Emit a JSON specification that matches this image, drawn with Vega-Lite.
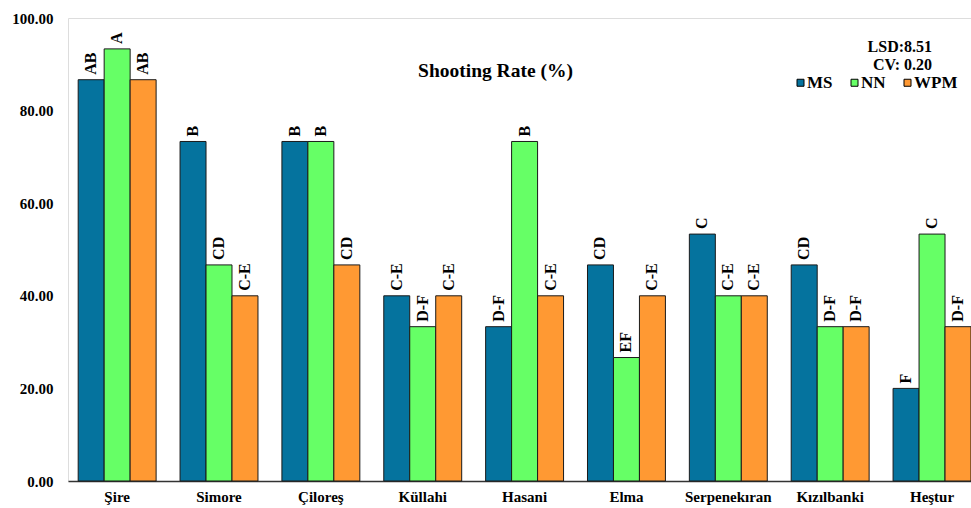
{
  "$schema": "https://vega.github.io/schema/vega-lite/v6.json",
  "width": 903,
  "height": 463,
  "autosize": {"type": "none"},
  "padding": {"left": 68, "top": 18, "right": 0, "bottom": 27},
  "background": "white",
  "title": {
    "text": "Shooting Rate (%)",
    "font": "Liberation Serif",
    "fontSize": 19.5,
    "fontWeight": "bold",
    "color": "black",
    "anchor": "middle",
    "dx": -24,
    "dy": 74
  },
  "data": {
    "values": [
      {"cultivar": "Şire", "treatment": "MS", "value": 86.67, "group": "AB"},
      {"cultivar": "Şire", "treatment": "NN", "value": 93.33, "group": "A"},
      {"cultivar": "Şire", "treatment": "WPM", "value": 86.67, "group": "AB"},
      {"cultivar": "Simore", "treatment": "MS", "value": 73.33, "group": "B"},
      {"cultivar": "Simore", "treatment": "NN", "value": 46.67, "group": "CD"},
      {"cultivar": "Simore", "treatment": "WPM", "value": 40.0, "group": "C-E"},
      {"cultivar": "Çiloreş", "treatment": "MS", "value": 73.33, "group": "B"},
      {"cultivar": "Çiloreş", "treatment": "NN", "value": 73.33, "group": "B"},
      {"cultivar": "Çiloreş", "treatment": "WPM", "value": 46.67, "group": "CD"},
      {"cultivar": "Küllahi", "treatment": "MS", "value": 40.0, "group": "C-E"},
      {"cultivar": "Küllahi", "treatment": "NN", "value": 33.33, "group": "D-F"},
      {"cultivar": "Küllahi", "treatment": "WPM", "value": 40.0, "group": "C-E"},
      {"cultivar": "Hasani", "treatment": "MS", "value": 33.33, "group": "D-F"},
      {"cultivar": "Hasani", "treatment": "NN", "value": 73.33, "group": "B"},
      {"cultivar": "Hasani", "treatment": "WPM", "value": 40.0, "group": "C-E"},
      {"cultivar": "Elma", "treatment": "MS", "value": 46.67, "group": "CD"},
      {"cultivar": "Elma", "treatment": "NN", "value": 26.67, "group": "EF"},
      {"cultivar": "Elma", "treatment": "WPM", "value": 40.0, "group": "C-E"},
      {"cultivar": "Serpenekıran", "treatment": "MS", "value": 53.33, "group": "C"},
      {"cultivar": "Serpenekıran", "treatment": "NN", "value": 40.0, "group": "C-E"},
      {"cultivar": "Serpenekıran", "treatment": "WPM", "value": 40.0, "group": "C-E"},
      {"cultivar": "Kızılbanki", "treatment": "MS", "value": 46.67, "group": "CD"},
      {"cultivar": "Kızılbanki", "treatment": "NN", "value": 33.33, "group": "D-F"},
      {"cultivar": "Kızılbanki", "treatment": "WPM", "value": 33.33, "group": "D-F"},
      {"cultivar": "Heştur", "treatment": "MS", "value": 20.0, "group": "F"},
      {"cultivar": "Heştur", "treatment": "NN", "value": 53.33, "group": "C"},
      {"cultivar": "Heştur", "treatment": "WPM", "value": 33.33, "group": "D-F"}
    ]
  },
  "layer": [
    {
      "mark": {"type": "bar", "stroke": "#1a1a1a", "strokeWidth": 1},
      "encoding": {
        "x": {
          "field": "cultivar",
          "type": "nominal",
          "sort": null,
          "scale": {"paddingInner": 0.235, "paddingOuter": 0.05, "align": 1},
          "axis": {
            "title": null,
            "labelAngle": 0,
            "labelFont": "Liberation Serif",
            "labelFontSize": 15,
            "labelFontWeight": "bold",
            "labelColor": "black",
            "labelPadding": 8,
            "ticks": false,
            "domainColor": "#333333",
            "domainWidth": 1.5
          }
        },
        "xOffset": {
          "field": "treatment",
          "type": "nominal",
          "scale": {"paddingInner": 0, "paddingOuter": 0}
        },
        "y": {
          "field": "value",
          "type": "quantitative",
          "scale": {"domain": [0, 100], "nice": false},
          "axis": {
            "title": null,
            "values": [0, 20, 40, 60, 80, 100],
            "format": ".2f",
            "grid": false,
            "domain": false,
            "ticks": false,
            "labelFont": "Liberation Serif",
            "labelFontSize": 15,
            "labelFontWeight": "bold",
            "labelColor": "black",
            "labelPadding": 15
          }
        },
        "color": {
          "field": "treatment",
          "type": "nominal",
          "scale": {"domain": ["MS", "NN", "WPM"], "range": ["#05739E", "#66FF66", "#FF9933"]},
          "legend": {
            "orient": "none",
            "legendX": 724,
            "legendY": 56,
            "direction": "horizontal",
            "title": null,
            "labelFont": "Liberation Serif",
            "labelFontSize": 17,
            "labelFontWeight": "bold",
            "labelColor": "black",
            "labelOffset": -2,
            "symbolType": "square",
            "symbolSize": 49,
            "symbolStrokeColor": "black",
            "symbolStrokeWidth": 1,
            "columnPadding": 13
          }
        }
      }
    },
    {
      "mark": {
        "type": "text",
        "angle": 270,
        "align": "left",
        "baseline": "middle",
        "dx": 5,
        "font": "Liberation Serif",
        "fontSize": 16,
        "fontWeight": "bold",
        "color": "black"
      },
      "encoding": {
        "x": {"field": "cultivar", "type": "nominal", "sort": null},
        "xOffset": {"field": "treatment", "type": "nominal"},
        "y": {"field": "value", "type": "quantitative"},
        "text": {"field": "group"}
      }
    },
    {
      "data": {"values": [{"note": "stats"}]},
      "mark": {
        "type": "text",
        "text": ["LSD:8.51", "CV: 0.20"],
        "lineHeight": 18,
        "align": "right",
        "baseline": "alphabetic",
        "font": "Liberation Serif",
        "fontSize": 16,
        "fontWeight": "bold",
        "color": "black"
      },
      "encoding": {
        "x": {"datum": "Heştur"},
        "y": {"datum": 92.66}
      }
    }
  ]
}
